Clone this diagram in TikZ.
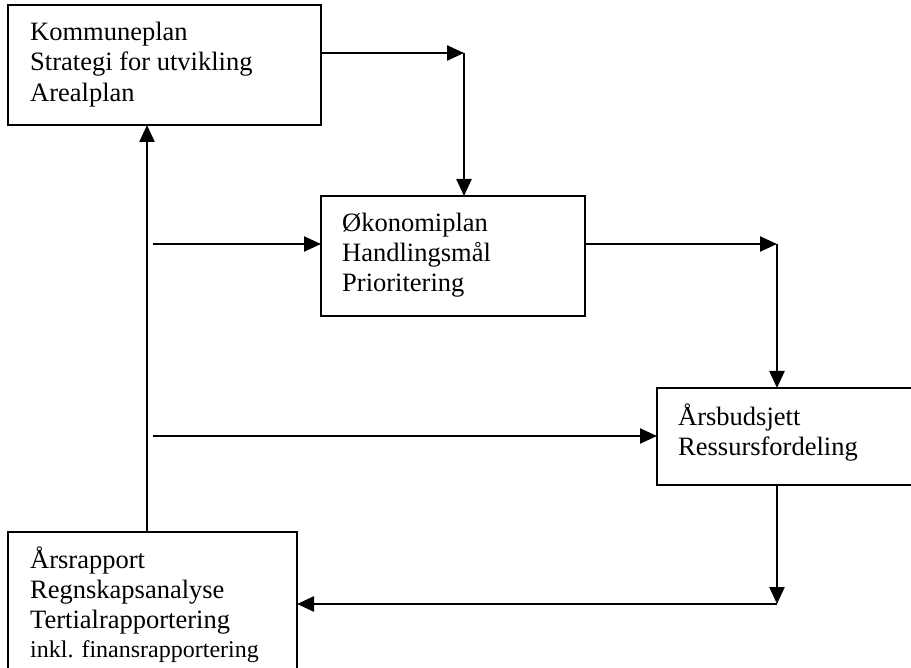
\documentclass[tikz,border=0pt]{standalone}
\usepackage{fontspec}
\setmainfont{Liberation Serif}
\usetikzlibrary{arrows.meta}
\begin{document}
\begin{tikzpicture}[x=1pt,y=-1pt,
  box/.style={draw,line width=2pt,rectangle,anchor=north west,inner sep=0pt,outer sep=0pt},
  txt/.style={anchor=base west,inner sep=0pt,font=\fontsize{26.5}{30}\selectfont},
  smalltxt/.style={anchor=base west,inner sep=0pt,font=\fontsize{24}{30}\selectfont},
  arr/.style={line width=2.4pt,-{Triangle[length=17pt,width=15pt]}}]
\useasboundingbox (0,0) rectangle (911,668);
\clip (0,0) rectangle (911,668);
% boxes
\node[box,minimum width=313pt,minimum height=120pt] (b1) at (8,5) {};
\node[box,minimum width=264pt,minimum height=120pt] (b2) at (321,196) {};
\node[box,minimum width=280pt,minimum height=97pt] (b3) at (657,388) {};
\node[box,minimum width=289pt,minimum height=150pt] (b4) at (8,532) {};
% texts
\node[txt] (t11) at (30,41) {Kommuneplan};
\node[txt] (t12) at (30,71) {Strategi for utvikling};
\node[txt] (t13) at (30,102) {Arealplan};
\node[txt] (t21) at (342,232) {Økonomiplan};
\node[txt] (t22) at (342,262) {Handlingsmål};
\node[txt] (t23) at (342,292) {Prioritering};
\node[txt] (t31) at (678,425) {Årsbudsjett};
\node[txt] (t32) at (678,455) {Ressursfordeling};
\node[txt] (t41) at (30,568) {Årsrapport};
\node[txt] (t42) at (30,598) {Regnskapsanalyse};
\node[txt] (t43) at (30,628) {Tertialrapportering};
\node[smalltxt] (t44) at (30,657) {inkl. finansrapportering};
% free ends
\coordinate (c1) at (464,53);
\coordinate (c2) at (153,244);
\coordinate (c3) at (777,244);
\coordinate (c4) at (153,436);
\coordinate (c5) at (777,604);
\coordinate (c7) at (147,0);
% connectors
\draw[arr] (b1.east |- c1) -- (c1);
\draw[arr] (c1) -- (c1 |- b2.north);
\draw[arr] (c2) -- (c2 -| b2.west);
\draw[arr] (b2.east |- c3) -- (c3);
\draw[arr] (c3) -- (c3 |- b3.north);
\draw[arr] (c4) -- (c4 -| b3.west);
\draw[arr] (c5 |- b3.south) -- (c5);
\draw[arr] (c5) -- (c5 -| b4.east);
\draw[arr] (c7 |- b4.north) -- (c7 |- b1.south);
\end{tikzpicture}
\end{document}
